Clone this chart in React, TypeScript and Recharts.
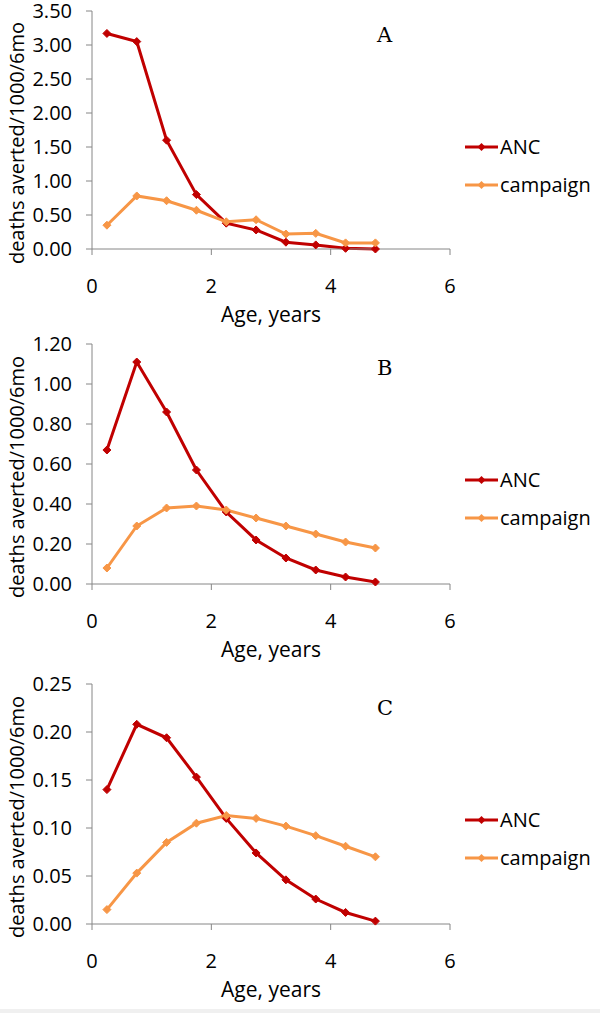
import React from 'react';
import { LineChart, Line, XAxis, YAxis, Label } from 'recharts';

// Age midpoints (years)
const ages = [0.25, 0.75, 1.25, 1.75, 2.25, 2.75, 3.25, 3.75, 4.25, 4.75];

// Panel A
const ancA = [3.17, 3.05, 1.6, 0.8, 0.38, 0.28, 0.1, 0.06, 0.01, 0.0];
const campaignA = [0.35, 0.78, 0.71, 0.57, 0.4, 0.43, 0.22, 0.23, 0.09, 0.09];
const ticksA = [0, 0.5, 1, 1.5, 2, 2.5, 3, 3.5];

// Panel B
const ancB = [0.67, 1.11, 0.86, 0.57, 0.36, 0.22, 0.13, 0.07, 0.035, 0.01];
const campaignB = [0.08, 0.29, 0.38, 0.39, 0.37, 0.33, 0.29, 0.25, 0.21, 0.18];
const ticksB = [0, 0.2, 0.4, 0.6, 0.8, 1.0, 1.2];

// Panel C
const ancC = [0.14, 0.208, 0.194, 0.153, 0.11, 0.074, 0.046, 0.026, 0.012, 0.003];
const campaignC = [0.015, 0.053, 0.085, 0.105, 0.113, 0.11, 0.102, 0.092, 0.081, 0.07];
const ticksC = [0, 0.05, 0.1, 0.15, 0.2, 0.25];

const xTicks = [0, 2, 4, 6];

const seriesNames = ['ANC', 'campaign'];

const ANC_COLOR = '#C00000';
const CAMPAIGN_COLOR = '#F79646';
const AXIS_COLOR = '#868686';
const FONT = '"Open Sans", "Noto Sans", sans-serif';
const TOP_PAD = 18; // room above the top tick label

const Diamond = (props: any) => {
  const { cx, cy, stroke } = props;
  if (cx == null || cy == null) return null;
  const r = 4;
  return (
    <polygon
      points={`${cx},${cy - r} ${cx + r},${cy} ${cx},${cy + r} ${cx - r},${cy}`}
      fill={stroke}
      stroke={stroke}
    />
  );
};

// legend drawn beside each plot, Excel style
const SideLegend = ({ top }: { top: number }) => (
  <div style={{ position: 'absolute', left: 465, top, fontFamily: FONT, fontSize: 20, color: '#000' }}>
    {seriesNames.map((name, i) => {
      const color = i === 0 ? ANC_COLOR : CAMPAIGN_COLOR;
      return (
        <div key={name} style={{ display: 'flex', alignItems: 'center', height: 38 }}>
          <svg width={34} height={12}>
            <line x1={0} y1={6} x2={33} y2={6} stroke={color} strokeWidth={3} />
            <polygon points="16.5,2 20.5,6 16.5,10 12.5,6" fill={color} />
          </svg>
          <span style={{ marginLeft: 1, lineHeight: '38px' }}>{name}</span>
        </div>
      );
    })}
  </div>
);

interface PanelProps {
  top: number;
  letter: string;
  anc: number[];
  campaign: number[];
  yTicks: number[];
  plotHeight: number;
}

const Panel: React.FC<PanelProps> = ({ top, letter, anc, campaign, yTicks, plotHeight }) => {
  const data = ages.map((age, i) => ({ age, anc: anc[i], campaign: campaign[i] }));
  const height = TOP_PAD + plotHeight + 75 + 5;
  const yMax = yTicks[yTicks.length - 1];
  const shift = TOP_PAD - 11;

  return (
    <div style={{ position: 'absolute', left: 0, top: top - shift, width: 600, height }}>
      <LineChart
        width={600}
        height={height}
        data={data}
        margin={{ top: TOP_PAD, right: 150, left: 12, bottom: 5 }}
      >
        <XAxis
          dataKey="age"
          type="number"
          domain={[0, 6]}
          ticks={xTicks}
          height={75}
          stroke={AXIS_COLOR}
          tickSize={6}
          tickMargin={24}
          tick={{ fill: '#000', fontSize: 20, fontFamily: FONT }}
        >
          <Label
            value="Age, years"
            position="insideBottom"
            offset={2}
            style={{ fill: '#000', fontSize: 21, fontFamily: FONT }}
          />
        </XAxis>
        <YAxis
          type="number"
          domain={[0, yMax]}
          ticks={yTicks}
          width={80}
          stroke={AXIS_COLOR}
          tickSize={6}
          tickMargin={14}
          tickFormatter={(v: number) => v.toFixed(2)}
          tick={{ fill: '#000', fontSize: 20, fontFamily: FONT }}
        >
          <Label
            content={(props: any) => {
              const vb = props.viewBox || {};
              const cx = 16;
              const cy = (vb.y ?? TOP_PAD) + (vb.height ?? plotHeight) / 2 + 13;
              return (
                <text
                  x={cx}
                  y={cy}
                  transform={`rotate(-90, ${cx}, ${cy})`}
                  textAnchor="middle"
                  dominantBaseline="central"
                  style={{ fill: '#000', fontSize: 20, fontFamily: FONT }}
                >
                  deaths averted/1000/6mo
                </text>
              );
            }}
          />
        </YAxis>
        <Line
          type="linear"
          dataKey="anc"
          name="ANC"
          stroke={ANC_COLOR}
          strokeWidth={3}
          dot={<Diamond />}
          activeDot={false}
          isAnimationActive={false}
        />
        <Line
          type="linear"
          dataKey="campaign"
          name="campaign"
          stroke={CAMPAIGN_COLOR}
          strokeWidth={3}
          dot={<Diamond />}
          activeDot={false}
          isAnimationActive={false}
        />
      </LineChart>
      <SideLegend top={128 + shift} />
      <div
        style={{
          position: 'absolute',
          left: 377,
          top: 20 + shift,
          fontFamily: '"DejaVu Serif", "Liberation Serif", serif',
          fontSize: 21,
          lineHeight: '30px',
          color: '#000',
        }}
      >
        {letter}
      </div>
    </div>
  );
};

export default function App() {
  return (
    <div style={{ position: 'absolute', left: 0, top: 0, width: 600, height: 1013, background: '#fff', overflow: 'hidden' }}>
      <Panel top={0} letter="A" anc={ancA} campaign={campaignA} yTicks={ticksA} plotHeight={238} />
      <Panel top={333} letter="B" anc={ancB} campaign={campaignB} yTicks={ticksB} plotHeight={240} />
      <Panel top={673} letter="C" anc={ancC} campaign={campaignC} yTicks={ticksC} plotHeight={240} />
      <div style={{ position: 'absolute', left: 0, top: 1009, width: 600, height: 4, background: '#f0f0f0' }} />
    </div>
  );
}
